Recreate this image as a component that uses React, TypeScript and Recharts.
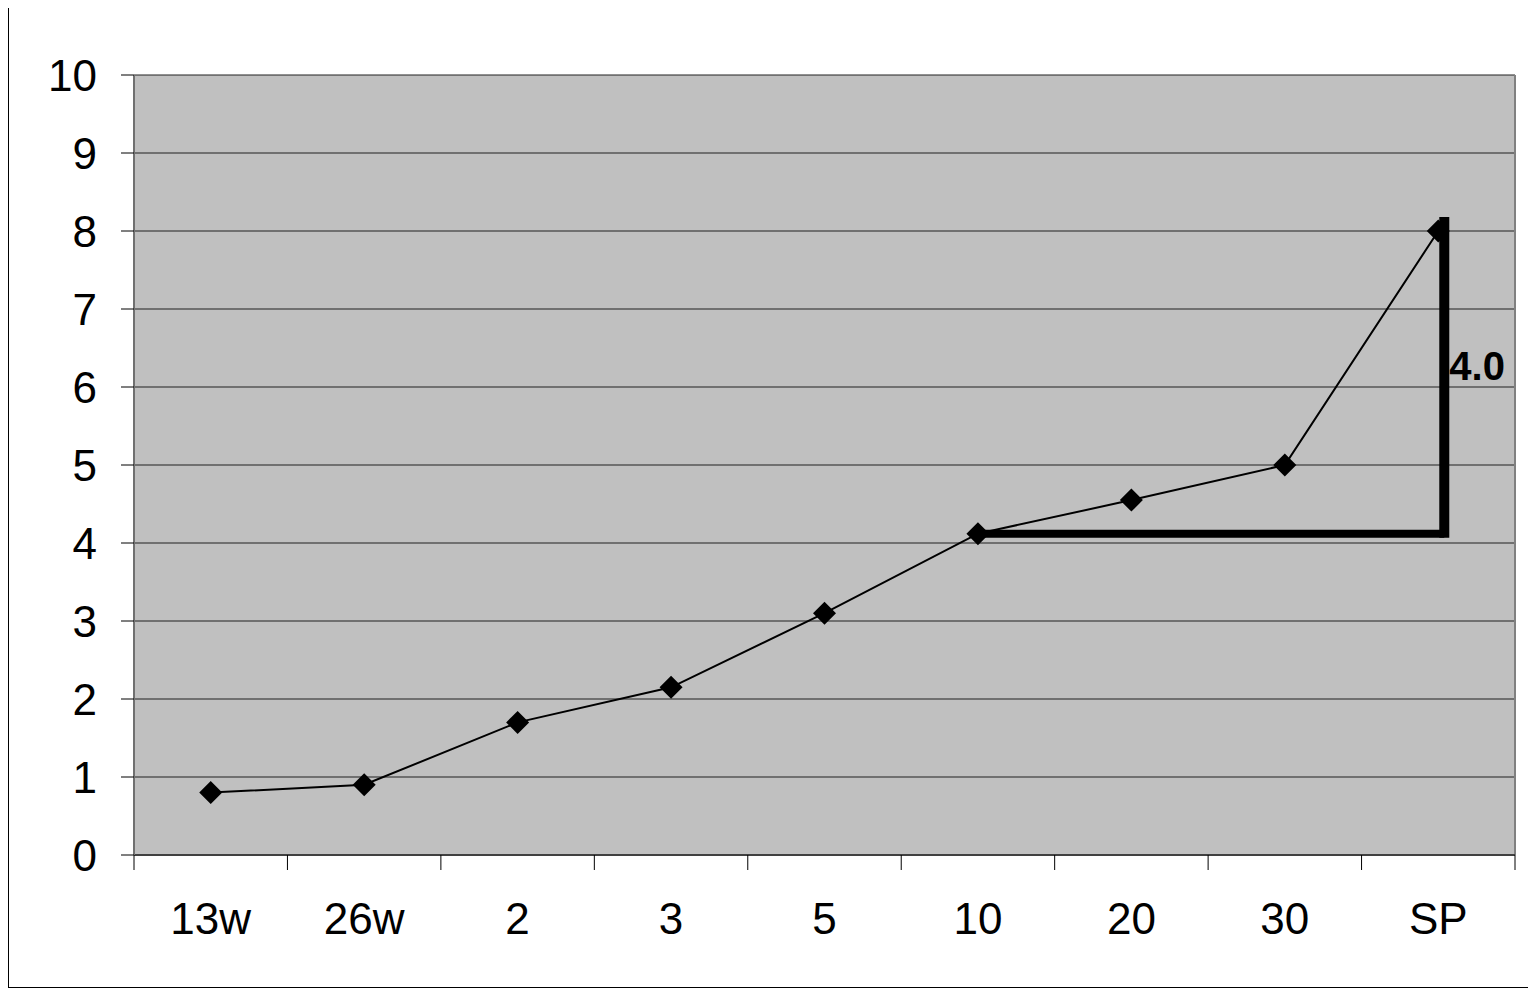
import React from 'react';
import { LineChart, Line, XAxis, YAxis, CartesianGrid, ReferenceLine } from 'recharts';

// categories along the bottom and the plotted series
const categories = ['13w', '26w', '2', '3', '5', '10', '20', '30', 'SP'];
const values = [0.8, 0.9, 1.7, 2.15, 3.1, 4.12, 4.55, 5.0, 8.0];
const yTicks = [0, 1, 2, 3, 4, 5, 6, 7, 8, 9, 10];

// the thick "rise" annotation
const annotationFrom = '10';
const annotationTo = 'SP';
const annotationBase = 4.12;
const annotationTop = 8.18;
const annotationLabel = '4.0';

const data = categories.map((c, i) => ({ cat: c, val: values[i] }));

const FONT = '"Liberation Sans", Arial, sans-serif';
const ANNOT_SHIFT = 6; // the bracket sits a little right of the SP marker

const Diamond = (props: any) => {
    const { cx, cy, index } = props;
    if (cx == null || cy == null) return null;
    const r = 11.5;
    return (
        <path
            key={`d${index}`}
            d={`M${cx},${cy - r} L${cx + r},${cy} L${cx},${cy + r} L${cx - r},${cy} Z`}
            fill="#000"
            stroke="none"
        />
    );
};

// Excel-style category tick: tick marks on band edges, label in band centre
const CatTick = (props: any) => {
    const { x, y, payload, index, width } = props;
    const bw = (width || 1381) / categories.length;
    const left = x - bw / 2;
    return (
        <g>
            <line x1={left} y1={y} x2={left} y2={y + 15} stroke="#000" strokeWidth={1} />
            {index === categories.length - 1 && (
                <line x1={left + bw} y1={y} x2={left + bw} y2={y + 15} stroke="#000" strokeWidth={1} />
            )}
            <text x={x} y={y + 48} dy="0.71em" textAnchor="middle" fill="#000" fontSize={44} fontFamily={FONT}>
                {payload.value}
            </text>
        </g>
    );
};

const App: React.FC = () => {
    return (
        <div
            style={{
                width: 1528,
                height: 981,
                border: '1px solid #000',
                boxSizing: 'border-box',
                marginTop: -1,
                background: '#fff',
                fontFamily: FONT,
            }}
        >
            <LineChart width={1526} height={979} data={data} margin={{ top: 67, right: 20, left: 0, bottom: 0 }}>
                <CartesianGrid
                    vertical={false}
                    fill="#C0C0C0"
                    fillOpacity={1}
                    stroke="#202020"
                    strokeWidth={1}
                />
                {/* gray border on the right edge of the plot */}
                <CartesianGrid
                    horizontal={false}
                    stroke="#808080"
                    strokeWidth={2}
                    verticalCoordinatesGenerator={({ offset }: any) => [offset.left + offset.width]}
                />
                <XAxis
                    dataKey="cat"
                    scale="band"
                    height={132}
                    interval={0}
                    axisLine={{ stroke: '#404040', strokeWidth: 2 }}
                    tickLine={false}
                    tickSize={0}
                    tickMargin={0}
                    tick={<CatTick />}
                />
                <YAxis
                    domain={[0, 10]}
                    ticks={yTicks}
                    interval={0}
                    width={125}
                    tickSize={13}
                    tickMargin={24}
                    tickLine={{ stroke: '#000', strokeWidth: 1 }}
                    axisLine={{ stroke: '#707070', strokeWidth: 2 }}
                    tick={{ fill: '#000', fontSize: 44, fontFamily: FONT }}
                />
                <ReferenceLine
                    segment={[{ x: annotationFrom, y: annotationBase }, { x: annotationTo, y: annotationBase }]}
                    ifOverflow="visible"
                    shape={(p: any) => (
                        <line x1={p.x1} y1={p.y1} x2={p.x2 + ANNOT_SHIFT} y2={p.y2} stroke="#000" strokeWidth={8} />
                    )}
                />
                <ReferenceLine
                    segment={[{ x: annotationTo, y: annotationBase }, { x: annotationTo, y: annotationTop }]}
                    ifOverflow="visible"
                    shape={(p: any) => (
                        <line
                            x1={p.x1 + ANNOT_SHIFT}
                            y1={p.y1 + 4}
                            x2={p.x2 + ANNOT_SHIFT}
                            y2={p.y2}
                            stroke="#000"
                            strokeWidth={10}
                        />
                    )}
                    label={{
                        value: annotationLabel,
                        position: 'right',
                        offset: 11,
                        dy: -10,
                        fill: '#000',
                        fontSize: 40,
                        fontWeight: 'bold',
                        fontFamily: FONT,
                    }}
                />
                <Line
                    type="linear"
                    dataKey="val"
                    stroke="#000"
                    strokeWidth={2}
                    dot={<Diamond />}
                    activeDot={false}
                    isAnimationActive={false}
                />
            </LineChart>
        </div>
    );
};

export default App;
